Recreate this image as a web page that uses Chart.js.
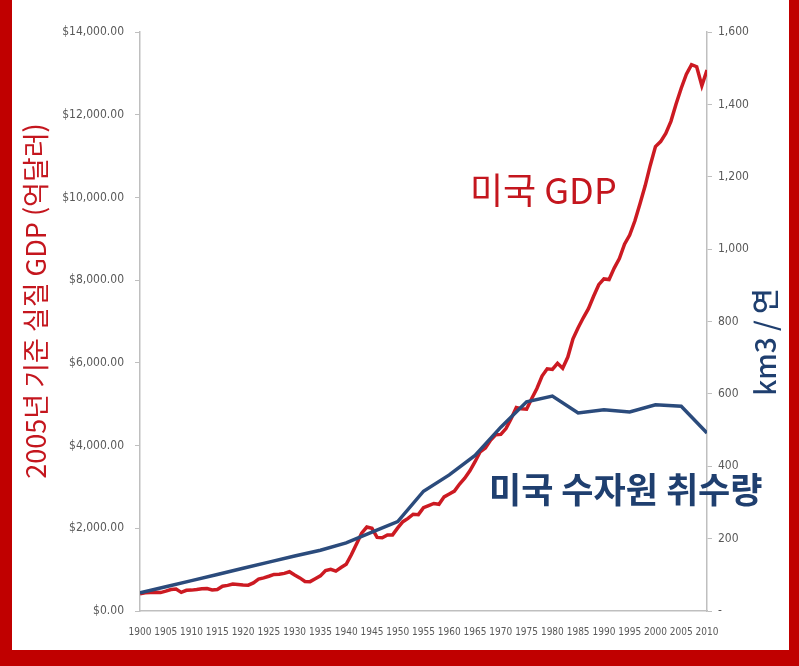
<!DOCTYPE html>
<html lang="ko">
<head>
<meta charset="utf-8">
<title>미국 GDP와 수자원 취수량</title>
<script src="https://cdn.jsdelivr.net/npm/chart.js@4/dist/chart.umd.min.js"></script>
<style>
    html, body { margin: 0; padding: 0; }
    body { width: 799px; height: 666px; background: #c00000; position: relative; overflow: hidden; }
    #frame { position: absolute; left: 12px; top: 0; width: 777px; height: 650px; background: #ffffff; }
</style>
</head>
<body>
<div id="frame"><canvas id="gdpWaterChart" width="777" height="650"></canvas></div>
<script>
// ============================
// DATA
// ============================
const years = [
    1900, 1901, 1902, 1903, 1904, 1905, 1906, 1907, 1908, 1909,
    1910, 1911, 1912, 1913, 1914, 1915, 1916, 1917, 1918, 1919,
    1920, 1921, 1922, 1923, 1924, 1925, 1926, 1927, 1928, 1929,
    1930, 1931, 1932, 1933, 1934, 1935, 1936, 1937, 1938, 1939,
    1940, 1941, 1942, 1943, 1944, 1945, 1946, 1947, 1948, 1949,
    1950, 1951, 1952, 1953, 1954, 1955, 1956, 1957, 1958, 1959,
    1960, 1961, 1962, 1963, 1964, 1965, 1966, 1967, 1968, 1969,
    1970, 1971, 1972, 1973, 1974, 1975, 1976, 1977, 1978, 1979,
    1980, 1981, 1982, 1983, 1984, 1985, 1986, 1987, 1988, 1989,
    1990, 1991, 1992, 1993, 1994, 1995, 1996, 1997, 1998, 1999,
    2000, 2001, 2002, 2003, 2004, 2005, 2006, 2007, 2008, 2009,
    2010
];

// real GDP, 2005 dollars (billions)
const gdp = [
    415, 440, 445, 455, 445, 480, 520, 530, 450, 500,
    505, 520, 540, 545, 510, 520, 600, 620, 650, 640,
    630, 625, 680, 770, 800, 840, 885, 890, 910, 950,
    870, 800, 715, 710, 780, 850, 980, 1010, 965, 1050,
    1130, 1360, 1620, 1880, 2030, 2000, 1780, 1770, 1840, 1840,
    2010, 2160, 2240, 2340, 2330, 2500, 2550, 2600, 2580, 2760,
    2830, 2900, 3070, 3210, 3390, 3610, 3850, 3940, 4130, 4260,
    4270, 4410, 4650, 4920, 4890, 4880, 5140, 5380, 5680, 5855,
    5840, 5990, 5870, 6140, 6580, 6850, 7090, 7310, 7610, 7890,
    8030, 8015, 8290, 8520, 8870, 9090, 9430, 9850, 10280, 10780,
    11230, 11350, 11550, 11840, 12260, 12640, 12980, 13210, 13160, 12700,
    13080
];

// water withdrawal, km3 per year
const waterYears = [1900, 1905, 1910, 1915, 1920, 1925, 1930, 1935, 1940, 1945, 1950, 1955,
                    1960, 1965, 1970, 1975, 1980, 1985, 1990, 1995, 2000, 2005, 2010];
const water = [50, 67, 84, 101, 118, 135, 152, 168, 188, 218, 247, 331,
               376, 430, 508, 578, 594, 547, 556, 550, 570, 566, 492];

const gdpTicks = [0, 2000, 4000, 6000, 8000, 10000, 12000, 14000];
const waterTicks = [0, 200, 400, 600, 800, 1000, 1200, 1400, 1600];

// ============================
// STYLE
// ============================
const RED = "#cc1a22";
const BLUE = "#2b4b7c";
const TEXT_RED = "#c4161e";
const TEXT_BLUE = "#1f3f6f";
const AXIS_GRAY = "#bfbfbf";
const TICK_GRAY = "#595959";
const NARROW = "'Liberation Sans Narrow', 'DejaVu Sans Condensed', sans-serif";
const KOREAN = "'Noto Sans CJK KR', 'Noto Sans', sans-serif";

// titles and in-chart labels drawn onto the canvas
const textPlugin = {
    id: "chartTexts",
    afterDraw(chart) {
        const ctx = chart.ctx;
        ctx.save();
        ctx.textBaseline = "middle";

        // left axis title
        ctx.save();
        ctx.translate(24, 301);
        ctx.rotate(-Math.PI / 2);
        ctx.textAlign = "center";
        ctx.fillStyle = TEXT_RED;
        ctx.font = "27px " + KOREAN;
        ctx.fillText("2005년 기준 실질 GDP (억달러)", 0, 0);
        ctx.restore();

        // right axis title
        ctx.save();
        ctx.translate(753, 342);
        ctx.rotate(-Math.PI / 2);
        ctx.textAlign = "center";
        ctx.fillStyle = TEXT_BLUE;
        ctx.font = "500 28px " + KOREAN;
        ctx.fillText("km3 / 연", 0, 0);
        ctx.restore();

        // series labels
        ctx.textAlign = "left";
        ctx.fillStyle = TEXT_RED;
        ctx.font = "36px " + KOREAN;
        ctx.fillText("미국 GDP", 458, 190);

        ctx.fillStyle = TEXT_BLUE;
        ctx.font = "bold 35px " + KOREAN;
        ctx.fillText("미국 수자원 취수량", 477, 490);

        ctx.restore();
    }
};

document.addEventListener("DOMContentLoaded", () => {
    const canvas = document.getElementById("gdpWaterChart");

    new Chart(canvas, {
        type: "line",
        data: {
            datasets: [
                {
                    label: "미국 GDP",
                    data: years.map((y, i) => ({ x: y, y: gdp[i] })),
                    borderColor: RED,
                    borderWidth: 3.5,
                    pointRadius: 0,
                    tension: 0,
                    yAxisID: "y",
                    order: 2
                },
                {
                    label: "미국 수자원 취수량",
                    data: waterYears.map((y, i) => ({ x: y, y: water[i] })),
                    borderColor: BLUE,
                    borderWidth: 3.5,
                    pointRadius: 0,
                    tension: 0,
                    yAxisID: "y2",
                    order: 1
                }
            ]
        },
        options: {
            responsive: false,
            animation: false,
            layout: { padding: { top: 32, left: 0, right: 0, bottom: 0 } },
            plugins: {
                legend: { display: false },
                tooltip: { enabled: false }
            },
            scales: {
                x: {
                    type: "linear",
                    min: years[0],
                    max: years[years.length - 1],
                    border: { display: true, color: AXIS_GRAY, width: 1.5 },
                    grid: { display: false },
                    ticks: {
                        stepSize: 5,
                        autoSkip: false,
                        maxRotation: 0,
                        padding: 7,
                        color: TICK_GRAY,
                        font: { family: NARROW, size: 10 },
                        callback: v => String(v)
                    },
                    afterFit: scale => { scale.height = 39; }
                },
                y: {
                    position: "left",
                    min: gdpTicks[0],
                    max: gdpTicks[gdpTicks.length - 1],
                    border: { display: true, color: AXIS_GRAY, width: 1.5 },
                    grid: { drawOnChartArea: false, drawTicks: true, tickLength: 5, color: AXIS_GRAY },
                    afterBuildTicks: scale => { scale.ticks = gdpTicks.map(v => ({ value: v })); },
                    ticks: {
                        padding: 11,
                        color: TICK_GRAY,
                        font: { family: NARROW, size: 12 },
                        callback: v => "$" + v.toLocaleString("en-US", { minimumFractionDigits: 2, maximumFractionDigits: 2 })
                    },
                    afterFit: scale => { scale.width = 128; }
                },
                y2: {
                    position: "right",
                    min: waterTicks[0],
                    max: waterTicks[waterTicks.length - 1],
                    border: { display: true, color: AXIS_GRAY, width: 1.5 },
                    grid: { drawOnChartArea: false, drawTicks: true, tickLength: 5, color: AXIS_GRAY },
                    afterBuildTicks: scale => { scale.ticks = waterTicks.map(v => ({ value: v })); },
                    ticks: {
                        padding: 6,
                        color: TICK_GRAY,
                        font: { family: NARROW, size: 12 },
                        callback: v => v === 0 ? "-" : v.toLocaleString("en-US")
                    },
                    afterFit: scale => { scale.width = 82; }
                }
            }
        },
        plugins: [textPlugin]
    });
});
</script>
</body>
</html>
